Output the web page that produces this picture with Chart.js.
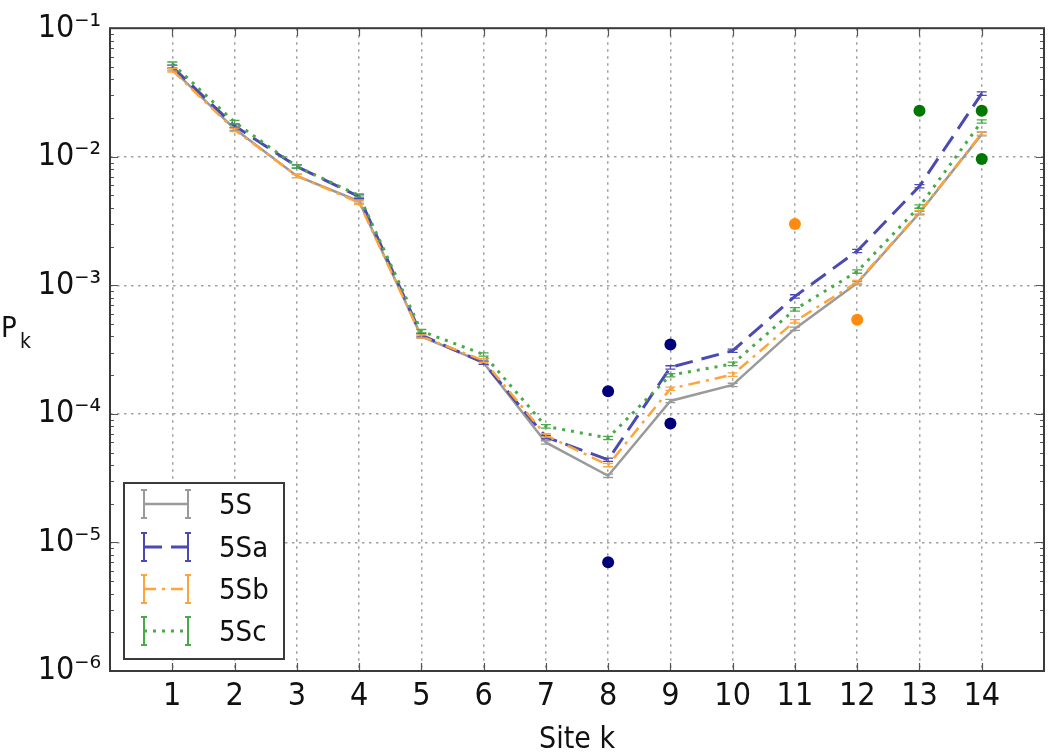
<!DOCTYPE html>
<html>
<head>
<meta charset="utf-8">
<script src="https://cdn.jsdelivr.net/npm/chart.js@4"></script>
<style>
  html, body { margin: 0; padding: 0; background: #fff; }
  #wrap { width: 1050px; height: 756px; }
</style>
</head>
<body>
<div id="wrap"><canvas id="chart" width="1050" height="756"></canvas></div>
<script>
// ---- data ----
const sites = [1, 2, 3, 4, 5, 6, 7, 8, 9, 10, 11, 12, 13, 14];
const p5S  = [0.048, 0.0165, 0.0071, 0.0045, 0.00040, 0.00025, 6.0e-5, 3.3e-5, 1.26e-4, 1.68e-4, 4.6e-4, 1.04e-3, 3.65e-3, 0.0150];
const p5Sa = [0.050, 0.0174, 0.0084, 0.0049, 0.00041, 0.00025, 6.6e-5, 4.4e-5, 2.3e-4, 3.1e-4, 8.2e-4, 1.85e-3, 5.9e-3, 0.031];
const p5Sb = [0.047, 0.0162, 0.0071, 0.0044, 0.00040, 0.00026, 6.8e-5, 4.0e-5, 1.57e-4, 2.02e-4, 5.25e-4, 1.06e-3, 3.7e-3, 0.0152];
const p5Sc = [0.053, 0.0186, 0.0084, 0.0050, 0.00044, 0.00029, 8.0e-5, 6.5e-5, 2.0e-4, 2.45e-4, 6.5e-4, 1.28e-3, 4.1e-3, 0.0188];

// relative error bars (tiny)
const err5S  = [0.03, 0.03, 0.03, 0.03, 0.03, 0.03, 0.03, 0.03, 0.03, 0.03, 0.03, 0.03, 0.03, 0.03];
const err5Sa = [0.03, 0.03, 0.03, 0.03, 0.03, 0.03, 0.03, 0.03, 0.03, 0.03, 0.03, 0.03, 0.03, 0.03];
const err5Sb = [0.03, 0.03, 0.03, 0.03, 0.03, 0.03, 0.03, 0.03, 0.03, 0.03, 0.03, 0.03, 0.03, 0.03];
const err5Sc = [0.03, 0.03, 0.03, 0.03, 0.03, 0.03, 0.03, 0.03, 0.03, 0.03, 0.03, 0.03, 0.03, 0.03];

// isolated dots
const dotsSaX = [8, 8, 9, 9];
const dotsSaY = [1.5e-4, 7.0e-6, 3.46e-4, 8.4e-5];
const dotsSbX = [11, 12];
const dotsSbY = [3.0e-3, 5.4e-4];
const dotsScX = [13, 14, 14];
const dotsScY = [0.0228, 0.0228, 0.0096];

// axis ticks
const xTickValues = [1, 2, 3, 4, 5, 6, 7, 8, 9, 10, 11, 12, 13, 14];
const yDecades = [1e-6, 1e-5, 1e-4, 1e-3, 1e-2, 1e-1];
const yTickLabels = ["10⁻⁶", "10⁻⁵", "10⁻⁴", "10⁻³", "10⁻²", "10⁻¹"];
const yMinorSteps = [2, 3, 4, 5, 6, 7, 8, 9];

const FONT = "'DejaVu Sans Condensed', 'DejaVu Sans', sans-serif";
const TEXT = "#111";

const series = [
  { label: "5S",  y: p5S,  err: err5S,  color: "#9a9a9a", dash: [],                width: 2.5 },
  { label: "5Sa", y: p5Sa, err: err5Sa, color: "#4a4ab2", dash: [18, 9],           width: 3 },
  { label: "5Sb", y: p5Sb, err: err5Sb, color: "#ffa43a", dash: [12, 6, 3, 6],     width: 2.5 },
  { label: "5Sc", y: p5Sc, err: err5Sc, color: "#48aa48", dash: [3, 6],            width: 3 }
];

const pts = (xs, ys) => xs.map((x, i) => ({ x: x, y: ys[i] }));

const datasets = [];
series.forEach((s, i) => {
  datasets.push({
    type: "line",
    label: s.label,
    data: pts(sites, s.y),
    borderColor: s.color,
    borderWidth: s.width,
    borderDash: s.dash,
    pointRadius: 0,
    tension: 0,
    fill: false,
    order: 4 - i,
    errBars: s.err
  });
});
datasets.push({ type: "scatter", label: "dotsSa", data: pts(dotsSaX, dotsSaY), backgroundColor: "#00007a", borderWidth: 0, pointRadius: 6, order: 0 });
datasets.push({ type: "scatter", label: "dotsSb", data: pts(dotsSbX, dotsSbY), backgroundColor: "#ff8a10", borderWidth: 0, pointRadius: 6, order: 0 });
datasets.push({ type: "scatter", label: "dotsSc", data: pts(dotsScX, dotsScY), backgroundColor: "#007800", borderWidth: 0, pointRadius: 6, order: 0 });

const isDecade = v => Math.abs(Math.log10(v) - Math.round(Math.log10(v))) < 1e-9;

// error bars, frame, inward ticks, titles, legend
const decorPlugin = {
  id: "decor",
  afterDatasetsDraw(chart) {
    const ctx = chart.ctx;
    const xs = chart.scales.x, ys = chart.scales.y;
    chart.data.datasets.forEach(ds => {
      if (!ds.errBars) return;
      ctx.save();
      ctx.strokeStyle = ds.borderColor;
      ctx.lineWidth = 1.3;
      ds.data.forEach((p, i) => {
        const px = xs.getPixelForValue(p.x);
        const e = ds.errBars[i];
        const y1 = ys.getPixelForValue(p.y * (1 - e));
        const y2 = ys.getPixelForValue(p.y * (1 + e));
        ctx.beginPath();
        ctx.moveTo(px, y1); ctx.lineTo(px, y2);
        ctx.moveTo(px - 5, y1); ctx.lineTo(px + 5, y1);
        ctx.moveTo(px - 5, y2); ctx.lineTo(px + 5, y2);
        ctx.stroke();
      });
      ctx.restore();
    });
  },
  afterDraw(chart) {
    const ctx = chart.ctx;
    const a = chart.chartArea;
    const xs = chart.scales.x, ys = chart.scales.y;
    ctx.save();

    // inward tick marks
    ctx.strokeStyle = "#555";
    ctx.lineWidth = 1.2;
    ctx.beginPath();
    xTickValues.forEach(v => {
      const px = Math.round(xs.getPixelForValue(v)) + 0.5;
      ctx.moveTo(px, a.bottom); ctx.lineTo(px, a.bottom - 8);
      ctx.moveTo(px, a.top); ctx.lineTo(px, a.top + 8);
    });
    yDecades.forEach(d => {
      const py = Math.round(ys.getPixelForValue(d)) + 0.5;
      ctx.moveTo(a.left, py); ctx.lineTo(a.left + 8, py);
      ctx.moveTo(a.right, py); ctx.lineTo(a.right - 8, py);
      if (d < 1e-1) {
        yMinorSteps.forEach(m => {
          const qy = Math.round(ys.getPixelForValue(d * m)) + 0.5;
          ctx.moveTo(a.left, qy); ctx.lineTo(a.left + 4, qy);
          ctx.moveTo(a.right, qy); ctx.lineTo(a.right - 4, qy);
        });
      }
    });
    ctx.stroke();

    // frame
    ctx.strokeStyle = "#3a3a3a";
    ctx.lineWidth = 2;
    ctx.strokeRect(a.left, a.top, a.right - a.left, a.bottom - a.top);

    // axis titles
    ctx.fillStyle = TEXT;
    ctx.textBaseline = "alphabetic";
    ctx.textAlign = "center";
    ctx.font = "30px " + FONT;
    ctx.fillText("Site k", (a.left + a.right) / 2, 748);
    ctx.textAlign = "left";
    ctx.font = "29px " + FONT;
    ctx.fillText("P", 1, 337);
    ctx.font = "21px " + FONT;
    ctx.fillText("k", 20, 348);

    // legend
    const lx = 124, ly = 483, lw = 160, lh = 176;
    ctx.fillStyle = "#fff";
    ctx.fillRect(lx, ly, lw, lh);
    ctx.strokeStyle = "#3a3a3a";
    ctx.lineWidth = 2;
    ctx.strokeRect(lx, ly, lw, lh);
    const rows = [504, 547, 589, 631];
    series.forEach((s, i) => {
      const cy = rows[i];
      const x1 = 144, x2 = 188;
      ctx.strokeStyle = s.color;
      ctx.lineWidth = s.width;
      ctx.setLineDash(s.dash);
      ctx.beginPath();
      ctx.moveTo(x1, cy); ctx.lineTo(x2, cy);
      ctx.stroke();
      ctx.setLineDash([]);
      ctx.lineWidth = 2;
      ctx.beginPath();
      [x1, x2].forEach(x => {
        ctx.moveTo(x, cy - 14); ctx.lineTo(x, cy + 14);
        ctx.moveTo(x - 3, cy - 14); ctx.lineTo(x + 3, cy - 14);
        ctx.moveTo(x - 3, cy + 14); ctx.lineTo(x + 3, cy + 14);
      });
      ctx.stroke();
      ctx.fillStyle = TEXT;
      ctx.font = "29px " + FONT;
      ctx.textBaseline = "middle";
      ctx.fillText(s.label, 219, cy + 2);
    });
    ctx.restore();
  }
};

new Chart(document.getElementById("chart"), {
  data: { datasets },
  options: {
    responsive: false,
    animation: false,
    layout: { padding: { top: 28, right: 6, left: 0, bottom: 0 } },
    plugins: { legend: { display: false }, tooltip: { enabled: false } },
    scales: {
      x: {
        type: "linear",
        min: 0,
        max: 15,
        afterBuildTicks: scale => { scale.ticks = [0].concat(xTickValues, [15]).map(v => ({ value: v })); },
        afterFit: scale => { scale.height = 85; },
        ticks: {
          autoSkip: false,
          maxRotation: 0,
          padding: 6,
          color: TEXT,
          font: { family: FONT, size: 32 },
          callback: v => (v >= 1 && v <= 14 ? String(v) : "")
        },
        grid: {
          drawTicks: false,
          lineWidth: 1.5,
          color: c => (c.tick && c.tick.value >= 1 && c.tick.value <= 14 ? "#a0a0a0" : "rgba(0,0,0,0)")
        },
        border: { display: false, dash: [2.5, 4.5] }
      },
      y: {
        type: "logarithmic",
        min: 1e-6,
        max: 1e-1,
        afterBuildTicks: scale => {
          const t = [];
          yDecades.forEach(d => { t.push({ value: d }); });
          scale.ticks = t;
        },
        afterFit: scale => { scale.width = 110; },
        ticks: {
          autoSkip: false,
          padding: 9,
          color: TEXT,
          font: { family: FONT, size: 32 },
          callback: v => {
            const i = yDecades.findIndex(d => Math.abs(d - v) / d < 1e-6);
            return i >= 0 ? yTickLabels[i] : "";
          }
        },
        grid: {
          drawTicks: false,
          lineWidth: 1.5,
          color: c => (c.tick && isDecade(c.tick.value) && c.tick.value > 1e-6 && c.tick.value < 1e-1 ? "#a0a0a0" : "rgba(0,0,0,0)")
        },
        border: { display: false, dash: [2.5, 4.5] }
      }
    }
  },
  plugins: [decorPlugin]
});
</script>
</body>
</html>
